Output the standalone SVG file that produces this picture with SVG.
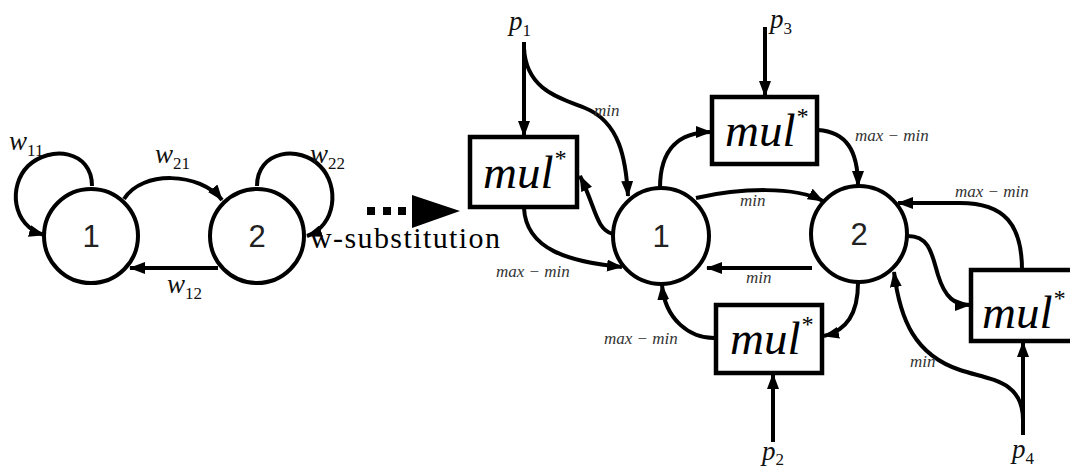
<svg xmlns="http://www.w3.org/2000/svg" width="1070" height="470" viewBox="0 0 1070 470">
  <style>
    .node { fill: #fff; stroke: #000; stroke-width: 4; }
    .box { fill: #fff; stroke: #000; stroke-width: 4.5; }
    .num { font-family: "Liberation Sans", sans-serif; font-size: 31px; fill: #222; text-anchor: middle; }
    .mul { font-family: "Liberation Serif", serif; font-style: italic; font-size: 47px; fill: #000; }
    .var { font-family: "Liberation Serif", serif; font-style: italic; font-size: 27px; fill: #111; }
    .sub { font-family: "Liberation Serif", serif; font-style: normal; font-size: 17px; }
    .lbl { font-family: "Liberation Serif", serif; font-style: italic; font-size: 17px; fill: #333; }
    .edge { fill: none; stroke: #000; stroke-width: 4; marker-end: url(#arrow); }
  </style>
  <defs>
    <marker id="arrow" markerUnits="userSpaceOnUse" markerWidth="16" markerHeight="12" viewBox="0 0 16 12" refX="15" refY="6" orient="auto">
      <path d="M0,0 L16,6 L0,12 z" fill="#000"/>
    </marker>
  </defs>

  <rect width="1070" height="470" fill="#fff"/>

  <!-- two-state graph with weights -->
  <g id="edges-left">
    <path class="edge" d="M92,186 C92,150 50,145 28,166 C8,186 12,226 44,235"/>
    <path class="edge" d="M124,199 C142,170 200,172 222,200"/>
    <path class="edge" d="M257,186 C257,150 300,145 320,166 C340,186 336,226 307,236"/>
    <path class="edge" d="M218,268 L130,268"/>
  </g>
  <g id="left-1"><circle class="node" cx="91" cy="236" r="47"/><text class="num" x="91" y="247">1</text></g>
  <g id="left-2"><circle class="node" cx="257" cy="236" r="47"/><text class="num" x="257" y="247">2</text></g>
  <g id="weights">
    <text class="var" x="9" y="150">w<tspan class="sub" dy="6">11</tspan></text>
    <text class="var" x="155" y="163">w<tspan class="sub" dy="6">21</tspan></text>
    <text class="var" x="310" y="163">w<tspan class="sub" dy="6">22</tspan></text>
    <text class="var" x="167" y="293">w<tspan class="sub" dy="6">12</tspan></text>
  </g>

  <!-- substitution arrow -->
  <g id="substitution">
    <rect x="367" y="207" width="8" height="8" fill="#000"/>
    <rect x="383" y="207" width="8" height="8" fill="#000"/>
    <rect x="398" y="207" width="8" height="8" fill="#000"/>
    <path d="M412,195 L460,211 L412,228 z" fill="#000"/>
    <text x="310" y="248" font-family="Liberation Serif, serif" font-size="30" textLength="190" lengthAdjust="spacing" fill="#000">w-substitution</text>
  </g>

  <!-- expanded graph -->
  <g id="connectors">
    <!-- p1 inputs -->
    <path class="edge" d="M524,42 L524,136"/>
    <path class="edge" d="M524,48 C526,90 560,98 585,108 C620,122 626,160 628,196"/>
    <!-- node1 <-> left mul -->
    <path class="edge" d="M613,234 C596,230 596,208 580,176"/>
    <path class="edge" d="M524,208 C526,250 570,262 622,267"/>
    <!-- node1 -> top mul -> node2 -->
    <path class="edge" d="M660,188 C660,148 680,132 711,132"/>
    <path class="edge" d="M818,130 C846,132 858,150 858,186"/>
    <!-- p3 -->
    <path class="edge" d="M765,27 L765,96"/>
    <!-- node1 <-> node2 -->
    <path class="edge" d="M696,198 C740,188 795,186 823,201"/>
    <path class="edge" d="M812,268 L707,268"/>
    <!-- node2 -> bottom mul -> node1 -->
    <path class="edge" d="M858,283 C858,308 850,330 824,336"/>
    <path class="edge" d="M714,338 C690,338 665,320 662,285"/>
    <!-- p2 -->
    <path class="edge" d="M773,442 L773,374"/>
    <!-- node2 <-> right mul -->
    <path class="edge" d="M1022,270 C1022,225 1005,203 960,203 L898,203"/>
    <path class="edge" d="M908,236 C930,236 932,255 938,275 C945,298 955,305 970,305"/>
    <!-- p4 -->
    <path class="edge" d="M1023,435 L1023,342"/>
    <path class="edge" d="M1023,420 C1023,380 990,380 960,370 C915,355 900,320 894,272"/>
  </g>

  <g id="node-1"><circle class="node" cx="661" cy="236" r="48"/><text class="num" x="661" y="247">1</text></g>
  <g id="node-2"><circle class="node" cx="859" cy="234" r="48"/><text class="num" x="859" y="245">2</text></g>

  <g id="mul-left"><rect class="box" x="470" y="137" width="107" height="70"/><text class="mul" x="483" y="188">mul<tspan font-size="24" dy="-22">*</tspan></text></g>
  <g id="mul-top"><rect class="box" x="712" y="97" width="105" height="67"/><text class="mul" x="725" y="146">mul<tspan font-size="24" dy="-22">*</tspan></text></g>
  <g id="mul-bottom"><rect class="box" x="716" y="305" width="106" height="68"/><text class="mul" x="730" y="354">mul<tspan font-size="24" dy="-22">*</tspan></text></g>
  <g id="mul-right"><rect class="box" x="971" y="270" width="110" height="71"/><text class="mul" x="982" y="328">mul<tspan font-size="24" dy="-22">*</tspan></text></g>

  <g id="inputs">
    <text class="var" x="509" y="30">p<tspan class="sub" dy="6">1</tspan></text>
    <text class="var" x="770" y="28">p<tspan class="sub" dy="6">3</tspan></text>
    <text class="var" x="762" y="460">p<tspan class="sub" dy="5">2</tspan></text>
    <text class="var" x="1012" y="458">p<tspan class="sub" dy="6">4</tspan></text>
  </g>

  <g id="labels">
    <text class="lbl" x="594" y="116">min</text>
    <text class="lbl" x="855" y="141">max − min</text>
    <text class="lbl" x="740" y="206">min</text>
    <text class="lbl" x="746" y="283">min</text>
    <text class="lbl" x="955" y="197">max − min</text>
    <text class="lbl" x="496" y="277">max − min</text>
    <text class="lbl" x="604" y="344">max − min</text>
    <text class="lbl" x="910" y="367">min</text>
  </g>
</svg>
